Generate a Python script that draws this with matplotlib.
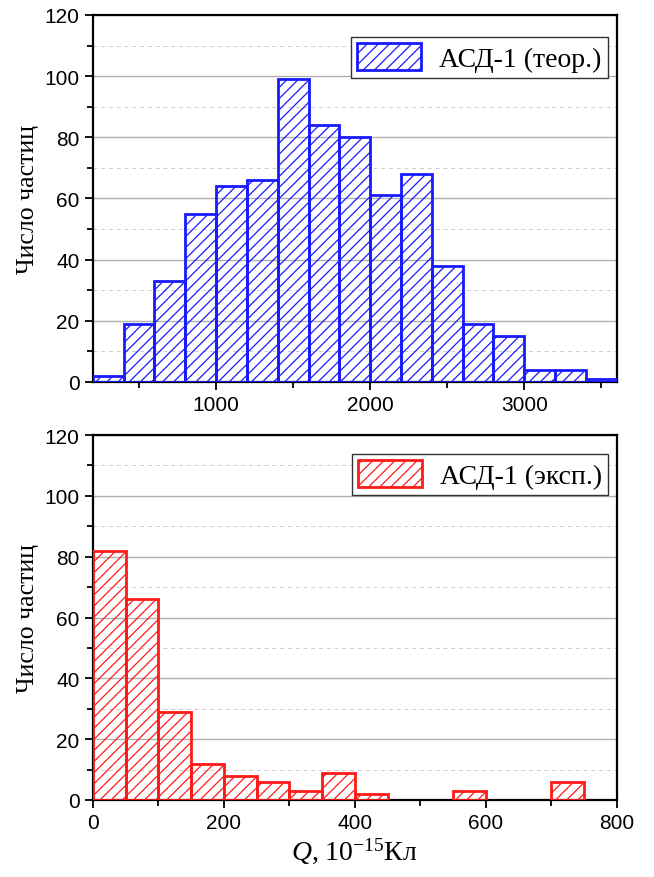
import numpy as np
import matplotlib
matplotlib.use("Agg")
import matplotlib.pyplot as plt
from matplotlib.ticker import MultipleLocator

# top panel: theoretical distribution, bins of 200
theor_edges = [200, 400, 600, 800, 1000, 1200, 1400, 1600, 1800, 2000,
               2200, 2400, 2600, 2800, 3000, 3200, 3400, 3600]
theor_counts = [2, 19, 33, 55, 64, 66, 99, 84, 80, 61, 68, 38, 19, 15, 4, 4, 1]

# bottom panel: experimental distribution, bins of 50
exp_edges = [0, 50, 100, 150, 200, 250, 300, 350, 400, 450, 500, 550, 600,
             650, 700, 750]
exp_counts = [82, 66, 29, 12, 8, 6, 3, 9, 2, 0, 0, 3, 0, 0, 6]

serif = 'Liberation Serif'
sans = 'Liberation Sans'
plt.rcParams['hatch.linewidth'] = 0.9
plt.rcParams['mathtext.fontset'] = 'custom'
plt.rcParams['mathtext.it'] = 'Liberation Serif:italic'
plt.rcParams['mathtext.rm'] = 'Liberation Serif'

fig = plt.figure(figsize=(6.54, 8.78), dpi=100)
ax1 = fig.add_axes([0.142, 0.5638, 0.801, 0.418])
ax2 = fig.add_axes([0.142, 0.0877, 0.801, 0.4157])


def draw(ax, edges, counts, color, label, xlim, major, minor, leg_top):
    edges = np.array(edges)
    counts = np.array(counts)
    w = np.diff(edges)
    mask = counts > 0
    ax.bar(edges[:-1][mask], counts[mask], width=w[mask], align='edge',
           facecolor='none', edgecolor=color, hatch='///', linewidth=2,
           label=label, zorder=3)
    ax.set_xlim(*xlim)
    ax.set_ylim(0, 120)
    ax.yaxis.set_major_locator(MultipleLocator(20))
    ax.yaxis.set_minor_locator(MultipleLocator(10))
    ax.xaxis.set_major_locator(MultipleLocator(major))
    ax.xaxis.set_minor_locator(MultipleLocator(minor))
    ax.grid(axis='y', which='major', color='#b0b0b0', lw=1, zorder=0)
    ax.grid(axis='y', which='minor', color='#cccccc', lw=0.7, ls=(0, (4, 4)), zorder=0)
    ax.tick_params(which='major', direction='out', length=6, width=1.3,
                   labelsize=15)
    ax.tick_params(which='minor', direction='out', length=4, width=1.3)
    for lab in ax.get_xticklabels() + ax.get_yticklabels():
        lab.set_fontfamily(sans)
    for s in ax.spines.values():
        s.set_linewidth(1.6)
    ax.set_ylabel('Число частиц', fontfamily=serif, fontsize=18.5, labelpad=4)
    leg = ax.legend(loc='upper right', bbox_to_anchor=(0.983, leg_top),
                    prop={'family': serif, 'size': 20},
                    fancybox=False, edgecolor='#333333', framealpha=1,
                    handlelength=2.3, handleheight=1.1, borderpad=0.22,
                    handletextpad=0.65, borderaxespad=0)
    leg.get_frame().set_linewidth(1.0)


draw(ax1, theor_edges, theor_counts, '#1a1aff', 'АСД-1 (теор.)',
     (200, 3600), 1000, 500, 0.94)
draw(ax2, exp_edges, exp_counts, '#ff1a1a', 'АСД-1 (эксп.)',
     (0, 800), 200, 100, 0.947)

ax1.set_xticks([1000, 2000, 3000])
ax2.set_xlabel(r'$Q$, 10$^{-15}$Кл', fontfamily=serif, fontsize=20,
               labelpad=2)

fig.savefig('out.png', dpi=100)
